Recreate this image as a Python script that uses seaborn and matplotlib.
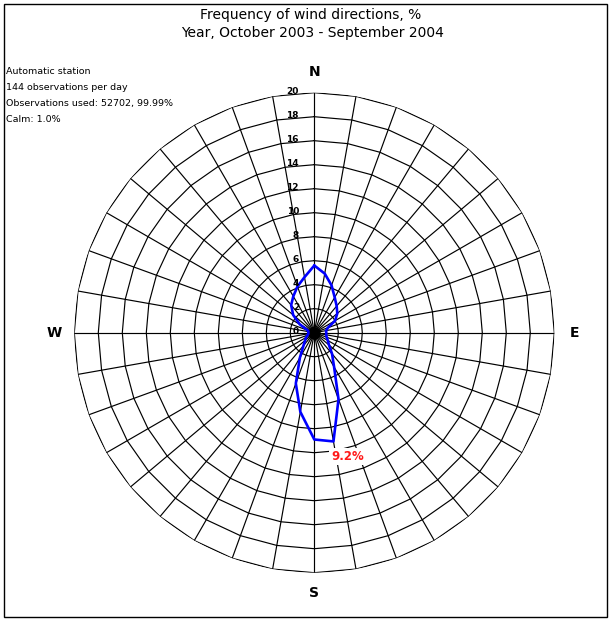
import numpy as np
import pandas as pd
import matplotlib
matplotlib.use('Agg')
import matplotlib.pyplot as plt
from matplotlib.patches import Rectangle
import seaborn as sns

# wind direction sectors (deg, clockwise from N) and frequency, %
directions = list(range(0, 360, 10))
frequency = [5.6, 5.0, 4.2, 3.4, 2.9, 2.5, 2.0, 1.2, 1.0, 1.0,
             1.0, 1.1, 1.3, 1.6, 2.3, 3.3, 5.9, 9.2, 8.9, 6.7,
             4.5, 2.4, 1.4, 1.0, 0.8, 0.6, 0.5, 0.5, 0.5, 0.6,
             1.4, 2.3, 3.0, 3.5, 4.1, 4.7]
ring_levels = list(range(0, 21, 2))
compass = ['N', 'E', 'S', 'W']
compass_deg = [0, 90, 180, 270]
title_lines = ['Frequency of wind directions, %', 'Year, October 2003 - September 2004']
info_lines = ['Automatic station', '144 observations per day',
              'Observations used: 52702, 99.99%', 'Calm: 1.0%']

sns.set_style('white')
plt.rcParams['font.family'] = ['DejaVu Sans']
plt.rcParams['text.color'] = 'black'

W, H = 612, 619
fig = plt.figure(figsize=(W / 100, H / 100), dpi=100)
fig.patches.append(Rectangle((4 / W, 2 / H), 603 / W, 613 / H, transform=fig.transFigure,
                             fill=False, ec='black', lw=1))

cx, cy, R = 314.3, 332.7, 240
ax = fig.add_axes([(cx - R) / W, (H - cy - R) / H, 2 * R / W, 2 * R / H], projection='polar')
ax.set_theta_zero_location('N')
ax.set_theta_direction(-1)
ax.grid(False)
ax.set_xticks([])
ax.set_yticks([])
ax.spines['polar'].set_visible(False)
ax.patch.set_visible(False)

theta = np.deg2rad(directions)
theta_c = np.append(theta, theta[0])

# polygon rings and spokes
for r in ring_levels[1:]:
    ax.plot(theta_c, [r] * len(theta_c), color='black', lw=0.85, zorder=1)
for t in theta:
    ax.plot([t, t], [0, ring_levels[-1]], color='black', lw=0.85, zorder=1)
ax.plot([0], [0], 'o', color='black', ms=8, zorder=2)

df = pd.DataFrame({'theta': theta_c, 'freq': frequency + frequency[:1]})
sns.lineplot(data=df, x='theta', y='freq', sort=False, estimator=None,
             color='#0000ff', lw=1.9, ax=ax, zorder=3)
ax.set_xlabel('')
ax.set_ylabel('')
ax.set_ylim(0, ring_levels[-1])

for r in ring_levels:
    ax.annotate(str(r), xy=(0, r), xytext=(-11, 1), textcoords='offset points',
                ha='right', va='center', fontsize=6.5, fontweight='bold', zorder=4)

for lab, d in zip(compass, compass_deg):
    ax.text(np.deg2rad(d), 21.7, lab, ha='center', va='center', fontsize=10,
            fontweight='bold', clip_on=False)

imax = int(np.argmax(frequency))
ax.annotate(f'{frequency[imax]:.1f}%', xy=(theta[imax], frequency[imax]), xytext=(10, -11),
            textcoords='offset points', ha='center', va='center', color='#ff1a1a',
            fontsize=8.5, fontweight='bold', zorder=5,
            bbox=dict(boxstyle='square,pad=0.15', fc='white', ec='none'))

fig.text(311 / W, 1 - 15.5 / H, title_lines[0], ha='center', va='center', fontsize=10)
fig.text(313 / W, 1 - 33.5 / H, title_lines[1], ha='center', va='center', fontsize=10)
for i, line in enumerate(info_lines):
    fig.text(6 / W, 1 - (71 + 16.3 * i) / H, line, ha='left', va='center', fontsize=6.8)

fig.savefig('out.png', dpi=100)
